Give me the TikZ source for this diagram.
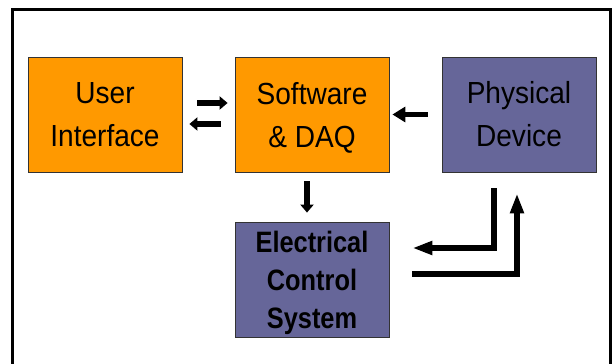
\documentclass[tikz,border=0pt]{standalone}
\usepackage{fontspec}
\setmainfont{Liberation Sans}
\newfontfamily\boxfont[FakeStretch=0.92]{Liberation Sans}
\newfontfamily\boldboxfont[FakeStretch=0.86]{Liberation Sans Bold}
\usetikzlibrary{arrows.meta,calc}
\definecolor{boxorange}{HTML}{FF9900}
\definecolor{boxpurple}{HTML}{666699}
\definecolor{boxedge}{HTML}{333333}
\tikzset{
  block/.style={draw=boxedge, line width=0.8pt, minimum width=154pt, minimum height=115pt,
    inner sep=0pt, align=center, font=\boxfont\fontsize{30.5}{43}\selectfont},
  orangeblock/.style={block, fill=boxorange},
  purpleblock/.style={block, fill=boxpurple},
  boldblock/.style={font=\boldboxfont\fontsize{29.5}{38}\selectfont},
  flow/.style={line width=5.5pt, line join=miter, line cap=butt},
  smallhead/.style={-{Triangle[length=8pt,width=13pt]}},
  bighead/.style={-{Triangle[length=13pt,width=15pt]}},
  longhead/.style={-{Triangle[length=20pt,width=13pt]}},
}
\begin{document}
\begin{tikzpicture}[x=1pt,y=1pt]
  \useasboundingbox (0,0) rectangle (614,364);
  % outer frame (open at the bottom edge of the page)
  \draw[line width=3pt] (12.5,-5) -- (12.5,354) -- (610,354) -- (610,-5);

  % blocks (descenders on the last line are smashed so the caps sit centred)
  \node[orangeblock] (ui)  at (105,249.5) {User\\Interface};
  \node[orangeblock] (sw)  at (312,249.5) {Software\\\smash{\& DAQ}};
  \node[purpleblock] (pd)  at (519,249.5) {Physical\\Device};
  \node[purpleblock, boldblock] (ecs) at (312,84.5) {Electrical\\Control\\\smash{System}};

  % user interface <-> software
  \draw[flow, smallhead] ($(ui.east)+(15,11.5)$) -- ($(sw.west)+(-7,11.5)$);
  \draw[flow, smallhead] ($(sw.west)+(-14,-9.5)$) -- ($(ui.east)+(7,-9.5)$);
  % physical device -> software
  \draw[flow, bighead] ($(pd.west)+(-14,0)$) -- ($(sw.east)+(3,0)$);
  % software -> electrical control
  \draw[flow, smallhead] ($(sw.south)+(-5,-9)$) -- ($(ecs.north)+(-5,9)$);
  % loop between physical device and electrical control
  \draw[flow, longhead] ($(pd.south)+(-25,-16)$) |- ($(ecs.east)+(23,31.5)$);
  \draw[flow, longhead] ($(ecs.east)+(23,5.5)$) -| ($(pd.south)+(-2,-21)$);
\end{tikzpicture}
\end{document}
